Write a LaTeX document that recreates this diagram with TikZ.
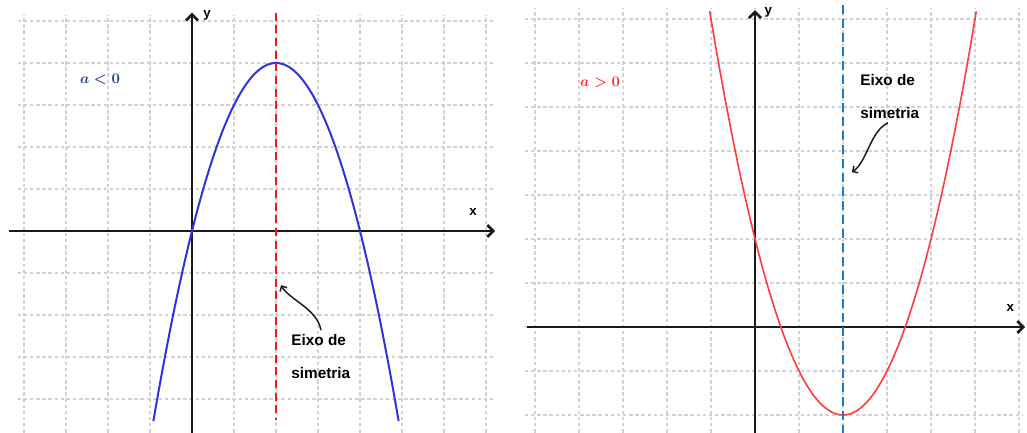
\documentclass[tikz,border=0pt]{standalone}
\usepackage{amsmath,amssymb}
\usepackage{fontspec}
\usepackage{tikz}
\usetikzlibrary{arrows.meta}
\usepackage{xcolor}
\setsansfont{Liberation Sans}
\definecolor{gridgray}{HTML}{D2D2D2}
\definecolor{axisblack}{HTML}{1A1A1A}
\definecolor{curveblue}{HTML}{3232DC}
\definecolor{curvered}{HTML}{FF3C3C}
\definecolor{symred}{HTML}{F01818}
\definecolor{symblue}{HTML}{1F78C8}
\definecolor{signnavy}{HTML}{1C3F8F}
\definecolor{signred}{HTML}{FF2A2A}

\begin{document}
\begin{tikzpicture}[x=0.75pt,y=0.75pt,
  gridline/.style={gridgray,line width=0.9pt,dash pattern=on 2.6pt off 2pt},
  axis/.style={-{Straight Barb[length=4.5pt,width=9pt]},axisblack,line width=2pt},
  axlabel/.style={font=\sffamily\bfseries\fontsize{10}{12}\selectfont,inner sep=0pt},
  eixo/.style={font=\sffamily\bfseries\fontsize{11.5}{14}\selectfont,inner sep=0pt,anchor=west},
  signlabel/.style={font=\fontsize{10.5}{12}\selectfont\boldmath,inner sep=0pt},
  pointer/.style={-{Straight Barb[length=3pt,width=6pt]},line width=1.1pt,axisblack}]
\useasboundingbox (0,0) rectangle (1027,432);
% a < 0
\begin{scope}[shift={(192,201)},x=31.5pt,y=31.5pt]
\foreach \x in {-4,...,7} {\draw[gridline] (\x,-4.8)--(\x,5.15);}
\foreach \y in {-4,...,5} {\draw[gridline] (-4.15,\y)--(7.17,\y);}
\draw[axis] (-4.35,0)--(7.22,0);\draw[axis] (0,-4.8)--(0,5.2);
\node[axlabel] (xL) at (6.69,0.45) {x};\node[axlabel] (yL) at (0.36,5.14) {y};
\draw[curveblue,line width=1.5pt,domain=-0.92:4.92,samples=121] plot (\x,{-\x*\x+4*\x});
\draw[symred,line width=2.1pt,dash pattern=on 6pt off 3.5pt] (2,5.2)--(2,-4.5);
\node[signlabel,text=signnavy] (signL) at (-2.19,3.6) {$a<0$};
\node[eixo] (eixoL) at (2.36,-2.6) {Eixo de};
\node[eixo] (simL) at (2.36,-3.38) {simetria};
\coordinate (fromL) at (3.07,-2.36);\coordinate (toL) at (2.12,-1.29);
\draw[pointer] (fromL) .. controls (2.98,-1.85) and (2.32,-1.64) .. (toL);
\end{scope}
% a > 0
\begin{scope}[shift={(755,105)},x=33pt,y=33pt]
\foreach \x in {-5,...,6} {\draw[gridline] (\x,-2.4)--(\x,7.25);}
\foreach \y in {-2,...,7} {\draw[gridline] (-5.23,\y)--(6.07,\y);}
\draw[axis] (-5.18,0)--(6.14,0);\draw[axis] (0,-2.4)--(0,7.2);
\node[axlabel] (xR) at (5.8,0.43) {x};\node[axlabel] (yR) at (0.3,7.16) {y};
\draw[curvered,line width=1.2pt,domain=-1.03:5.03,samples=121] plot (\x,{(\x-2)*(\x-2)-2});
\draw[symblue,line width=2.1pt,dash pattern=on 6.5pt off 4pt] (2,7.32)--(2,-2.4);
\node[signlabel,text=signred] (signR) at (-3.52,5.55) {$a>0$};
\node[eixo] (eixoR) at (2.39,5.61) {Eixo de};
\node[eixo] (simR) at (2.39,4.86) {simetria};
\coordinate (fromR) at (3.02,4.64);\coordinate (toR) at (2.2,3.52);
\draw[pointer] (fromR) .. controls (2.62,4.45) and (2.54,3.74) .. (toR);
\end{scope}
\end{tikzpicture}
\end{document}
